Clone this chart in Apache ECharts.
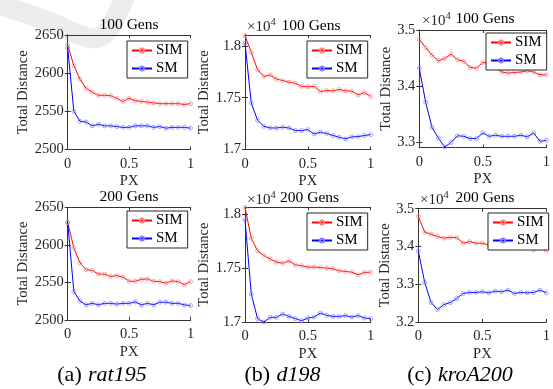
<!DOCTYPE html>
<html><head><meta charset="utf-8">
<script src="https://cdn.jsdelivr.net/npm/echarts@6/dist/echarts.min.js"></script>
<style>html,body{margin:0;padding:0;background:#fff}#c{width:553px;height:389px}</style>
</head><body><div id="c"></div>
<script>
// ---- data ----
const px = [0,0.05,0.1,0.15,0.2,0.25,0.3,0.35,0.4,0.45,0.5,0.55,0.6,0.65,0.7,0.75,0.8,0.85,0.9,0.95,1];
const seriesNames = ['SIM','SM'];
const panelTitles = ['100 Gens','100 Gens','100 Gens','200 Gens','200 Gens','200 Gens'];
const captions = [['(a)','rat195'],['(b)','d198'],['(c)','kroA200']];
const xTicks = [0,0.5,1];
const yTicksRat = [2500,2550,2600,2650];
const yTicksD = [1.7,1.75,1.8];
const yTicksKro100 = [3.3,3.4,3.5];
const yTicksKro200 = [3.2,3.3,3.4,3.5];

const rat195_100_SIM = [2637,2610,2592,2580,2575,2571,2571,2570.5,2567,2563,2567,2564,2563,2562,2561,2560,2560,2560,2560,2559,2560];
const rat195_100_SM  = [2633,2550,2537,2536,2531,2533,2531,2531,2530,2529,2529,2531,2531,2531,2529,2530,2528,2529,2529,2529,2528];
const d198_100_SIM = [1.8099,1.7939,1.777,1.7705,1.772,1.768,1.7667,1.765,1.764,1.761,1.7606,1.761,1.756,1.757,1.7567,1.758,1.7567,1.7564,1.7526,1.755,1.7513];
const d198_100_SM  = [1.8026,1.7449,1.7282,1.7224,1.7208,1.7208,1.7215,1.7208,1.7183,1.7183,1.7192,1.715,1.7167,1.7154,1.7135,1.7119,1.7103,1.7122,1.7125,1.7135,1.7144];
const kroA200_100_SIM = [3.4834,3.4686,3.455,3.445,3.449,3.4568,3.447,3.444,3.433,3.432,3.442,3.44,3.432,3.425,3.423,3.424,3.425,3.427,3.425,3.42,3.42];
const kroA200_100_SM  = [3.4314,3.371,3.326,3.307,3.291,3.299,3.311,3.31,3.306,3.306,3.316,3.31,3.312,3.31,3.31,3.31,3.312,3.309,3.316,3.301,3.303];
const rat195_200_SIM = [2630,2596,2576,2567,2566,2561,2561,2558,2559,2557,2551.5,2551.5,2554,2554.6,2551.5,2551,2549,2552,2551,2547,2551];
const rat195_200_SM  = [2630,2538,2525,2520,2522,2520,2522,2522,2521,2522,2522,2524,2520,2522,2520,2523.5,2523.5,2522,2522,2520,2519];
const d198_200_SIM = [1.8062,1.7778,1.766,1.7617,1.7586,1.7556,1.7546,1.7568,1.7531,1.7522,1.751,1.751,1.7506,1.75,1.7494,1.7475,1.7469,1.7463,1.7438,1.746,1.7463];
const d198_200_SM  = [1.7948,1.7259,1.7031,1.7,1.7043,1.7043,1.7074,1.7052,1.7031,1.7012,1.7037,1.7046,1.7083,1.7062,1.7052,1.7052,1.7059,1.7046,1.7059,1.7037,1.7031];
const kroA200_200_SIM = [3.4796,3.4379,3.4326,3.4264,3.422,3.4237,3.4237,3.4086,3.413,3.4086,3.4086,3.404,3.402,3.40,3.40,3.398,3.397,3.396,3.3909,3.397,3.389];
const kroA200_200_SM  = [3.3882,3.3048,3.2515,3.2329,3.2462,3.2515,3.2622,3.2755,3.2782,3.2782,3.28,3.2773,3.2817,3.28,3.2844,3.2755,3.2782,3.2773,3.2782,3.2844,3.2773];

// ---- layout ----
const FONT = 'Liberation Serif';
const TXT = '#262626';
const panels = [
  {grid:{left:67.7,top:35,width:122.8,height:114.5}, y:[2500,2650], yt:yTicksRat, sim:rat195_100_SIM, sm:rat195_100_SM, ng:31, leg:[127,41], title:[129,25], exp:null},
  {grid:{left:245,top:35,width:125.7,height:114.5}, y:[1.7,1.8106], yt:yTicksD, sim:d198_100_SIM, sm:d198_100_SM, ng:28.5, leg:[307,41], title:[311,26], exp:[247,27]},
  {grid:{left:419.3,top:30,width:131.7,height:117.5}, y:[3.29,3.5], yt:yTicksKro100, sim:kroA200_100_SIM, sm:kroA200_100_SM, ng:21.5, leg:[486,33], title:[485,18.5], exp:[422,21.5]},
  {grid:{left:67.7,top:207.5,width:122.8,height:112.3}, y:[2500,2650], yt:yTicksRat, sim:rat195_200_SIM, sm:rat195_200_SM, ng:31, leg:[127,211], title:[129,196.5], exp:null},
  {grid:{left:245,top:207.3,width:125.7,height:114.7}, y:[1.7,1.8065], yt:yTicksD, sim:d198_200_SIM, sm:d198_200_SM, ng:28.5, leg:[307,213], title:[309.6,197.7], exp:[247,200]},
  {grid:{left:418.3,top:208.7,width:132.4,height:113.3}, y:[3.2,3.5], yt:yTicksKro200, sim:kroA200_200_SIM, sm:kroA200_200_SM, ng:20.5, leg:[488,213], title:[485,198.3], exp:[420,200]}
];
const captionPos = [[102,375],[282.5,375],[460,375]];

const grid=[], xAxis=[], yAxis=[], series=[], legend=[], graphic=[];
const axLine = {show:true, lineStyle:{color:'#333', width:1}};
const tick = (vals)=>({show:true, inside:true, length:3, customValues:vals, lineStyle:{color:'#333', width:1}});
const fmt = v => String(+v.toFixed(3));

// watermark swoosh
graphic.push({type:'polyline', z:-10, silent:true, shape:{points:[[-6,3],[45,20],[90,38],[106,33],[120,8],[126,-6]], smooth:0.35}, style:{stroke:'#ececec', lineWidth:20, fill:null}});

panels.forEach((p,i)=>{
  grid.push(Object.assign({containLabel:false}, p.grid));
  const gi = grid.length-1;
  xAxis.push({type:'value', gridIndex:gi, min:0, max:1, position:'bottom',
    name:'PX', nameLocation:'middle', nameGap:24.5, nameTextStyle:{fontFamily:FONT,fontSize:14.5,color:TXT},
    axisLine:axLine, axisTick:tick(xTicks), splitLine:{show:false},
    axisLabel:{customValues:xTicks, formatter:fmt, margin:7, fontFamily:FONT, fontSize:14.5, color:TXT}});
  xAxis.push({type:'value', gridIndex:gi, min:0, max:1, position:'top',
    axisLine:axLine, axisTick:tick(xTicks), splitLine:{show:false}, axisLabel:{show:false}});
  yAxis.push({type:'value', gridIndex:gi, min:p.y[0], max:p.y[1], position:'left',
    name:'Total Distance', nameLocation:'middle', nameGap:p.ng, nameTextStyle:{fontFamily:FONT,fontSize:14.5,color:TXT},
    axisLine:axLine, axisTick:tick(p.yt), splitLine:{show:false},
    axisLabel:{customValues:p.yt, formatter:fmt, margin:4, fontFamily:FONT, fontSize:14.5, color:TXT}});
  yAxis.push({type:'value', gridIndex:gi, min:p.y[0], max:p.y[1], position:'right',
    axisLine:axLine, axisTick:tick(p.yt), splitLine:{show:false}, axisLabel:{show:false}});
  const xi = i*2, yi = i*2;
  [[seriesNames[0],p.sim,'#ff0000','#ff8080'],[seriesNames[1],p.sm,'#0000ff','#8080ff']].forEach(([nm,arr,c,mc])=>{
    series.push({type:'line', name:nm, xAxisIndex:xi, yAxisIndex:yi, data:px.map((x,k)=>[x,arr[k]]),
      symbol:'circle', symbolSize:4, showAllSymbol:true, z:3,
      lineStyle:{color:c, width:1}, itemStyle:{color:'rgba(255,255,255,0)', borderColor:mc, borderWidth:0.7}, emphasis:{disabled:true}});
  });
  legend.push({left:p.leg[0], top:p.leg[1], orient:'vertical', data:seriesNames, selectedMode:false,
    backgroundColor:'#fff', borderColor:'#262626', borderWidth:1, borderRadius:0, padding:[2,5,2,4], itemGap:3,
    itemWidth:20, itemHeight:5, textStyle:{fontFamily:FONT, fontSize:15, color:'#000', padding:[0,0,0,-1]}});
  graphic.push({type:'text', x:p.title[0], y:p.title[1], style:{text:panelTitles[i], font:'15.5px "Liberation Serif"', fill:'#000', align:'center', verticalAlign:'middle'}});
  if (p.exp){
    graphic.push({type:'text', x:p.exp[0], y:p.exp[1], style:{text:'\u00d710', font:'15px "Liberation Serif"', fill:TXT, align:'left', verticalAlign:'middle'}});
    graphic.push({type:'text', x:p.exp[0]+23.5, y:p.exp[1]-5, style:{text:'4', font:'10.5px "Liberation Serif"', fill:TXT, align:'left', verticalAlign:'middle'}});
  }
});
captions.forEach((c,i)=>{
  graphic.push({type:'text', x:captionPos[i][0], y:captionPos[i][1], style:{
    text:'{n|'+c[0]+'} {i|'+c[1]+'}', align:'center', verticalAlign:'middle', fill:'#000',
    rich:{n:{fontFamily:FONT, fontSize:22, fill:'#000'}, i:{fontFamily:FONT, fontSize:22, fontStyle:'italic', fill:'#000', padding:[0,0,0,3]}}}});
});

const chart = echarts.init(document.getElementById('c'), null, {renderer:'canvas'});
chart.setOption({animation:false, backgroundColor:'#fff', grid, xAxis, yAxis, series, legend, graphic});
</script></body></html>
